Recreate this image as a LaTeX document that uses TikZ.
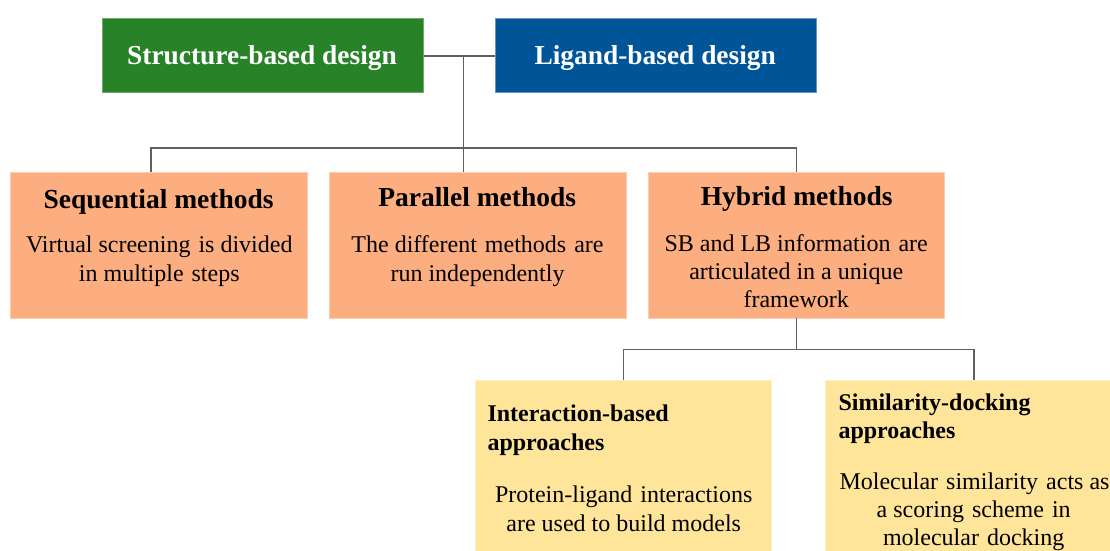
\documentclass[tikz,border=0pt]{standalone}
\usepackage{fontspec}
\setmainfont{Liberation Serif}
\definecolor{sbgreen}{RGB}{40,130,40}
\definecolor{sbgreenedge}{RGB}{110,170,110}
\definecolor{lbblue}{RGB}{0,84,152}
\definecolor{lbblueedge}{RGB}{100,150,200}
\definecolor{peach}{RGB}{252,174,128}
\definecolor{peachedge}{RGB}{253,205,178}
\definecolor{cream}{RGB}{255,229,153}
\definecolor{creamedge}{RGB}{255,240,195}
\definecolor{linegray}{RGB}{95,95,95}
\tikzset{
  topbox/.style={rectangle, line width=0.8pt, inner sep=0pt,
    minimum width=321pt, minimum height=74pt},
  toptext/.style={anchor=base, inner sep=0pt, text=white,
    font=\fontsize{27.4}{32}\selectfont\bfseries},
  methodbox/.style={rectangle, fill=peach, draw=peachedge, line width=0.8pt,
    inner sep=0pt, minimum width=296.5pt, minimum height=146pt},
  approachbox/.style={rectangle, fill=cream, draw=creamedge, line width=0.8pt,
    inner sep=0pt, minimum width=296.5pt, minimum height=200pt},
  mtitle/.style={anchor=base, inner sep=0pt,
    font=\fontsize{27.5}{32}\selectfont\bfseries},
  atitle/.style={anchor=base west, inner sep=0pt,
    font=\fontsize{24}{28}\selectfont\bfseries},
  bodyline/.style={anchor=base, inner sep=0pt,
    font=\fontsize{24}{28}\selectfont},
  conn/.style={draw=linegray, line width=1.2pt},
}
\begin{document}
\begin{tikzpicture}[x=1pt,y=-1pt]
\clip (0,0) rectangle (1110,550);
\fill[white] (0,0) rectangle (1110,550);

% design families
\node[topbox, fill=sbgreen, draw=sbgreenedge] (sb) at (262.6,55.3) {};
\node[topbox, fill=lbblue, draw=lbblueedge]   (lb) at (655.5,55.3) {};
\node[toptext] (sbT) at (262,64.3) {Structure-based design};
\node[toptext] (lbT) at (655.2,64.3) {Ligand-based design};

% method boxes
\node[methodbox] (seq) at (159,245) {};
\node[methodbox] (par) at (478,245) {};
\node[methodbox] (hyb) at (796.6,245) {};

\node[mtitle]   (seqT)  at (158.6,208) {Sequential methods};
\node[bodyline] (seqB1) at (159.3,252.3) {Virtual screening\hspace{2pt} is divided};
\node[bodyline] (seqB2) at (159.3,281.6) {in multiple\hspace{2pt} steps};

\node[mtitle]   (parT)  at (477.2,206.7) {Parallel methods};
\node[bodyline] (parB1) at (477.5,252.3) {The different\hspace{2pt} methods\hspace{2pt} are};
\node[bodyline] (parB2) at (477.5,281.6) {run independently};

\node[mtitle]   (hybT)  at (796.7,205) {Hybrid methods};
\node[bodyline] (hybB1) at (796.2,251) {SB and LB information\hspace{2pt} are};
\node[bodyline] (hybB2) at (796.2,279.4) {articulated in a unique};
\node[bodyline] (hybB3) at (796.2,307.8) {framework};

% hybrid sub-approaches
\node[approachbox] (ia) at (623.3,480.7) {};
\node[approachbox] (sd) at (973.5,480.7) {};

\node[atitle]   (iaT1) at (487.3,421.7) {Interaction-based};
\node[atitle]   (iaT2) at (487.3,450) {approaches};
\node[bodyline] (iaB1) at (623.7,502.7) {Protein-ligand\hspace{2pt} interactions};
\node[bodyline] (iaB2) at (623.7,531) {are used to build models};

\node[atitle]   (sdT1) at (838.3,410.7) {Similarity-docking};
\node[atitle]   (sdT2) at (838.3,438.7) {approaches};
\node[bodyline] (sdB1) at (974.5,489.3) {Molecular\hspace{2pt} similarity\hspace{2pt} acts as};
\node[bodyline] (sdB2) at (973.7,517.7) {a scoring\hspace{2pt} scheme\hspace{2pt} in};
\node[bodyline] (sdB3) at (973.7,545.9) {molecular\hspace{2pt} docking};

% connectors
\coordinate (hub)   at (463.3,56);
\coordinate (busL)  at (151,148);
\coordinate (busR)  at (796.7,148);
\coordinate (bus2L) at (623.3,349.3);
\coordinate (bus2R) at (974,349.3);

\draw[conn] (sb.east |- hub) -- (lb.west |- hub);
\draw[conn] (hub) -- (hub |- par.north);
\draw[conn] (busL |- seq.north) -- (busL) -- (busR) -- (busR |- hyb.north);
\draw[conn] (hyb.south) -- (hyb.south |- bus2L);
\draw[conn] (bus2L |- ia.north) -- (bus2L) -- (bus2R) -- (bus2R |- sd.north);
\end{tikzpicture}
\end{document}
